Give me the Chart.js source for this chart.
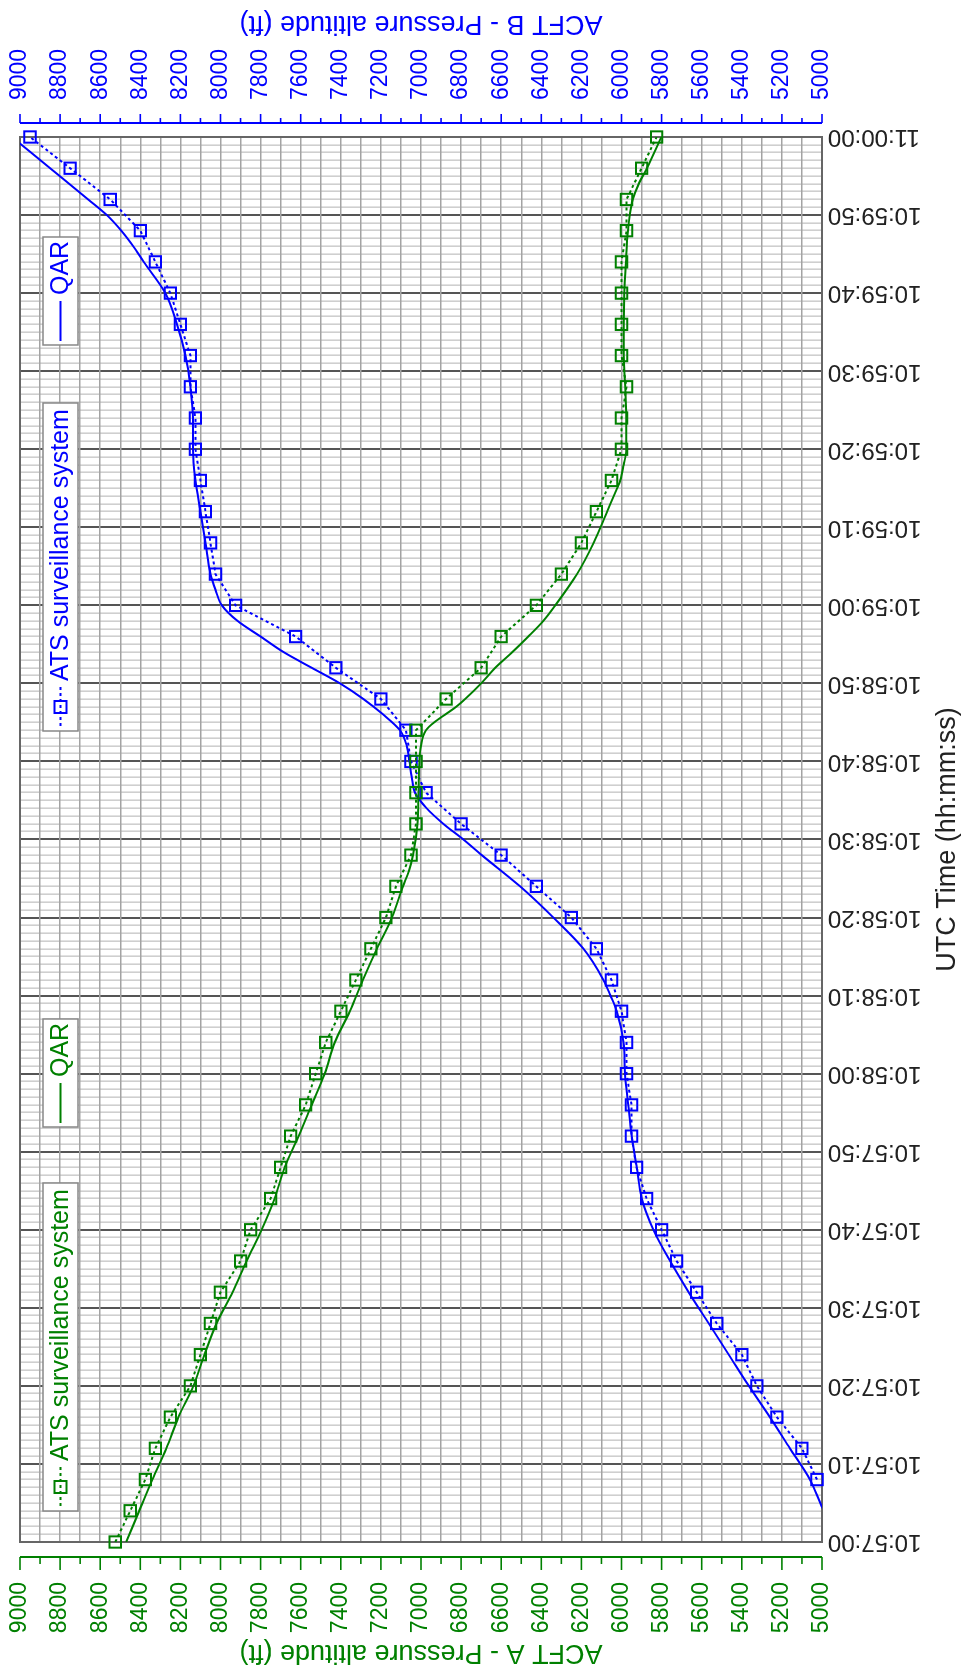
<!DOCTYPE html>
<html>
<head>
<meta charset="utf-8">
<script src="https://cdn.jsdelivr.net/npm/chart.js@4/dist/chart.umd.min.js"></script>
<style>
html,body{margin:0;padding:0;background:#fff;overflow:hidden}
#page{position:relative;width:968px;height:1673px;overflow:hidden;background:#fff}
#rot{position:absolute;left:0;top:0;width:1673px;height:968px;transform-origin:0 0;transform:translate(0px,1673px) rotate(-90deg)}
canvas{display:block}
</style>
</head>
<body>
<div id="page"><div id="rot"><canvas id="c" width="1673" height="968"></canvas></div></div>
<script>
// ---- Data (seconds after 10:57:00, pressure altitude in ft) ----
const timeLabels = ['10:57:00','10:57:10','10:57:20','10:57:30','10:57:40','10:57:50',
  '10:58:00','10:58:10','10:58:20','10:58:30','10:58:40','10:58:50',
  '10:59:00','10:59:10','10:59:20','10:59:30','10:59:40','10:59:50','11:00:00'];

const atsTimesA = [0,4,8,12,16,20,24,28,32,36,40,44,48,52,56,60,64,68,72,76,80,84,88,92,96,100,104,108,112,116,120,124,128,132,136,140,144,148,152,156,160,164,168,172,176,180];
const atsAltA = [8525,8450,8375,8325,8250,8150,8100,8050,8000,7900,7850,7750,7700,7650,7575,7525,7475,7400,7325,7250,7175,7125,7050,7025,7025,7025,7025,6875,6700,6600,6425,6300,6200,6125,6050,6000,6000,5975,6000,6000,6000,6000,5975,5975,5900,5825];

const qarTimesA = [0,4,8,12,16,20,24,28,32,36,40,44,48,52,56,60,64,68,72,76,80,84,86,88,92,96,100,102,104,105,106,107,108,110,112,114,116,118,120,124,128,132,135,136,138,140,144,148,152,156,160,164,168,170,172,174,176,180];
const qarAltA = [8470,8405,8340,8270,8210,8135,8080,8020,7940,7870,7795,7730,7680,7610,7545,7480,7430,7355,7290,7220,7145,7090,7060,7040,7018,7012,7008,7000,6975,6935,6880,6825,6780,6700,6630,6545,6465,6390,6330,6222,6139,6072,6022,6006,5989,5976,5976,5981,5989,5989,5986,5978,5968,5959,5944,5914,5873,5801];

const atsTimesB = [8,12,16,20,24,28,32,36,40,44,48,52,56,60,64,68,72,76,80,84,88,92,96,100,104,108,112,116,120,124,128,132,136,140,144,148,152,156,160,164,168,172,176,180];
const atsAltB = [5025,5100,5225,5325,5400,5525,5625,5725,5800,5875,5925,5950,5950,5975,5975,6000,6050,6125,6250,6425,6600,6800,6975,7050,7075,7200,7425,7625,7925,8025,8050,8075,8100,8125,8125,8150,8150,8200,8250,8325,8400,8550,8750,8950];

const qarTimesB = [0,4,8,12,16,20,24,28,32,36,40,44,48,52,56,60,64,68,70,72,76,80,84,88,90,92,94,96,98,100,102,104,106,108,110,112,114,116,118,120,122,124,128,132,136,140,144,148,152,156,160,164,166,168,170,172,176,180];
const qarAltB = [4890,4990,5060,5160,5260,5365,5465,5565,5665,5758,5841,5899,5924,5949,5966,5982,5990,6024,6055,6090,6190,6340,6506,6697,6789,6888,6972,7030,7046,7058,7071,7105,7188,7287,7404,7545,7685,7800,7915,7993,8025,8050,8075,8100,8125,8137,8137,8150,8175,8217,8275,8383,8435,8495,8567,8660,8850,9040];

const altMin = 5000, altMax = 9000;
const GREEN = '#008000', BLUE = '#0000ff';
const FONT = "'Liberation Sans', Arial, Helvetica, sans-serif";
const CLEAR = 'rgba(0,0,0,0)';

function pts(ts, vs){ return ts.map((t,i)=>({x:t, y:vs[i]})); }

Chart.defaults.font.family = FONT;

function altTicks(scale){
  const t = [];
  for (let v = altMin; v <= altMax; v += 100) t.push({value: v});
  scale.ticks = t;
}

function drawAxis(ctx, scale, x, dir, majorLen, minorLen, color){
  const yTop = scale.getPixelForValue(altMax), yBot = scale.getPixelForValue(altMin);
  ctx.save();
  ctx.strokeStyle = color; ctx.lineWidth = 2;
  ctx.beginPath(); ctx.moveTo(x, yTop); ctx.lineTo(x, yBot); ctx.stroke();
  ctx.lineWidth = 1.6;
  scale.ticks.forEach(t => {
    const y = scale.getPixelForValue(t.value);
    const len = (t.value % 200 === 0) ? majorLen : minorLen;
    ctx.beginPath(); ctx.moveTo(x, y); ctx.lineTo(x + dir*len, y); ctx.stroke();
  });
  ctx.restore();
}

function legendBox(ctx, left, width, top, height, color, ats, label){
  ctx.save();
  ctx.fillStyle = '#fff';
  ctx.fillRect(left, top, width, height);
  ctx.strokeStyle = '#888'; ctx.lineWidth = 1.5;
  ctx.strokeRect(left, top, width, height);
  const cy = top + height/2;
  ctx.strokeStyle = color; ctx.lineWidth = 2;
  if (ats) {
    ctx.setLineDash([3,3]);
    ctx.beginPath(); ctx.moveTo(left+5, cy); ctx.lineTo(left+44, cy); ctx.stroke();
    ctx.setLineDash([]);
    ctx.strokeRect(left+24-6, cy-6, 12, 12);
  } else {
    ctx.beginPath(); ctx.moveTo(left+4, cy); ctx.lineTo(left+44, cy); ctx.stroke();
  }
  ctx.fillStyle = color;
  ctx.font = '25px ' + FONT;
  ctx.textBaseline = 'middle';
  ctx.textAlign = 'left';
  ctx.fillText(label, left+50, cy+1);
  ctx.restore();
}

const decor = {
  id: 'decor',
  beforeDatasetsDraw(chart){
    const {ctx, chartArea:a} = chart;
    ctx.save();
    ctx.strokeStyle = '#666'; ctx.lineWidth = 2;
    ctx.strokeRect(a.left, a.top, a.right-a.left, a.bottom-a.top);
    ctx.restore();
  },
  afterDraw(chart){
    const {ctx, chartArea:a} = chart;
    drawAxis(ctx, chart.scales.yA, a.left - 15, -1, 13, 7, GREEN);
    drawAxis(ctx, chart.scales.yB, a.right + 14, 1, 9, 5, BLUE);
    // right axis title, reading the same way as the left one
    ctx.save();
    ctx.translate(1650, (a.top + a.bottom)/2);
    ctx.rotate(-Math.PI/2);
    ctx.fillStyle = BLUE;
    ctx.font = '27px ' + FONT;
    ctx.textAlign = 'center'; ctx.textBaseline = 'middle';
    ctx.fillText('ACFT B - Pressure altitude (ft)', 0, 0);
    ctx.restore();
    // legends
    const top = a.top + 23, h = 35;
    legendBox(ctx, a.left + 31, 328, top, h, GREEN, true, 'ATS surveillance system');
    legendBox(ctx, a.left + 415, 108, top, h, GREEN, false, 'QAR');
    legendBox(ctx, a.right - 594, 328, top, h, BLUE, true, 'ATS surveillance system');
    legendBox(ctx, a.right - 208, 108, top, h, BLUE, false, 'QAR');
  }
};

new Chart(document.getElementById('c'), {
  type: 'line',
  data: {
    datasets: [
      {label:'ACFT A ATS', data: pts(atsTimesA, atsAltA), yAxisID:'yA', borderColor: GREEN, borderWidth: 2, borderDash:[3,3],
       pointStyle:'rect', pointRadius: 8, pointBorderWidth: 2, pointBorderColor: GREEN, pointBackgroundColor: CLEAR, tension: 0, clip: false},
      {label:'ACFT A QAR', data: pts(qarTimesA, qarAltA), yAxisID:'yA', borderColor: GREEN, borderWidth: 2, pointRadius: 0, cubicInterpolationMode:'monotone'},
      {label:'ACFT B ATS', data: pts(atsTimesB, atsAltB), yAxisID:'yB', borderColor: BLUE, borderWidth: 2, borderDash:[3,3],
       pointStyle:'rect', pointRadius: 8, pointBorderWidth: 2, pointBorderColor: BLUE, pointBackgroundColor: CLEAR, tension: 0, clip: false},
      {label:'ACFT B QAR', data: pts(qarTimesB, qarAltB), yAxisID:'yB', borderColor: BLUE, borderWidth: 2, pointRadius: 0, cubicInterpolationMode:'monotone'}
    ]
  },
  options: {
    responsive: false,
    devicePixelRatio: 1,
    animation: false,
    layout: { autoPadding: false, padding: { top: 20, left: 0, right: 0, bottom: 0 } },
    plugins: { legend: { display: false }, tooltip: { enabled: false } },
    scales: {
      x: {
        type: 'linear', position: 'bottom', min: 0, max: 180,
        afterBuildTicks: s => { const t=[]; for (let v=0; v<=180; v++) t.push({value:v}); s.ticks = t; },
        afterFit: s => { s.height = 146; },
        ticks: {
          autoSkip: false, minRotation: 90, maxRotation: 90, padding: 0,
          color: '#222', font: { size: 24 },
          callback: v => (v % 10 === 0 ? timeLabels[v/10] : '')
        },
        grid: {
          drawTicks: true, tickLength: 6, tickColor: CLEAR,
          color: c => (c.tick && c.tick.value % 10 === 0) ? '#555' : '#cfcfcf',
          lineWidth: c => (c.tick && c.tick.value % 10 === 0) ? 2 : 1.6
        },
        border: { display: false },
        title: { display: true, text: 'UTC Time (hh:mm:ss)', color: '#222', font: { size: 27 }, padding: { top: 0, bottom: 4 } }
      },
      yA: {
        type: 'linear', position: 'left', min: altMin, max: altMax,
        afterBuildTicks: altTicks,
        afterFit: s => { s.width = 131; },
        ticks: { autoSkip: false, padding: 0, color: GREEN, font: { size: 23 },
          callback: v => (v % 200 === 0 ? String(v) : '') },
        grid: { drawTicks: true, tickLength: 40, tickColor: CLEAR, color: '#a3a3a3', lineWidth: 1.5 },
        border: { display: false },
        title: { display: true, text: 'ACFT A - Pressure altitude (ft)', color: GREEN, font: { size: 27 }, padding: { top: 4, bottom: 0 } }
      },
      yB: {
        type: 'linear', position: 'right', min: altMin, max: altMax,
        afterBuildTicks: altTicks,
        afterFit: s => { s.width = 137; },
        ticks: { autoSkip: false, padding: 0, color: BLUE, font: { size: 23 },
          callback: v => (v % 200 === 0 ? String(v) : '') },
        grid: { drawTicks: true, tickLength: 37, tickColor: CLEAR, drawOnChartArea: false },
        border: { display: false },
        title: { display: false }
      }
    }
  },
  plugins: [decor]
});
</script>
</body>
</html>
